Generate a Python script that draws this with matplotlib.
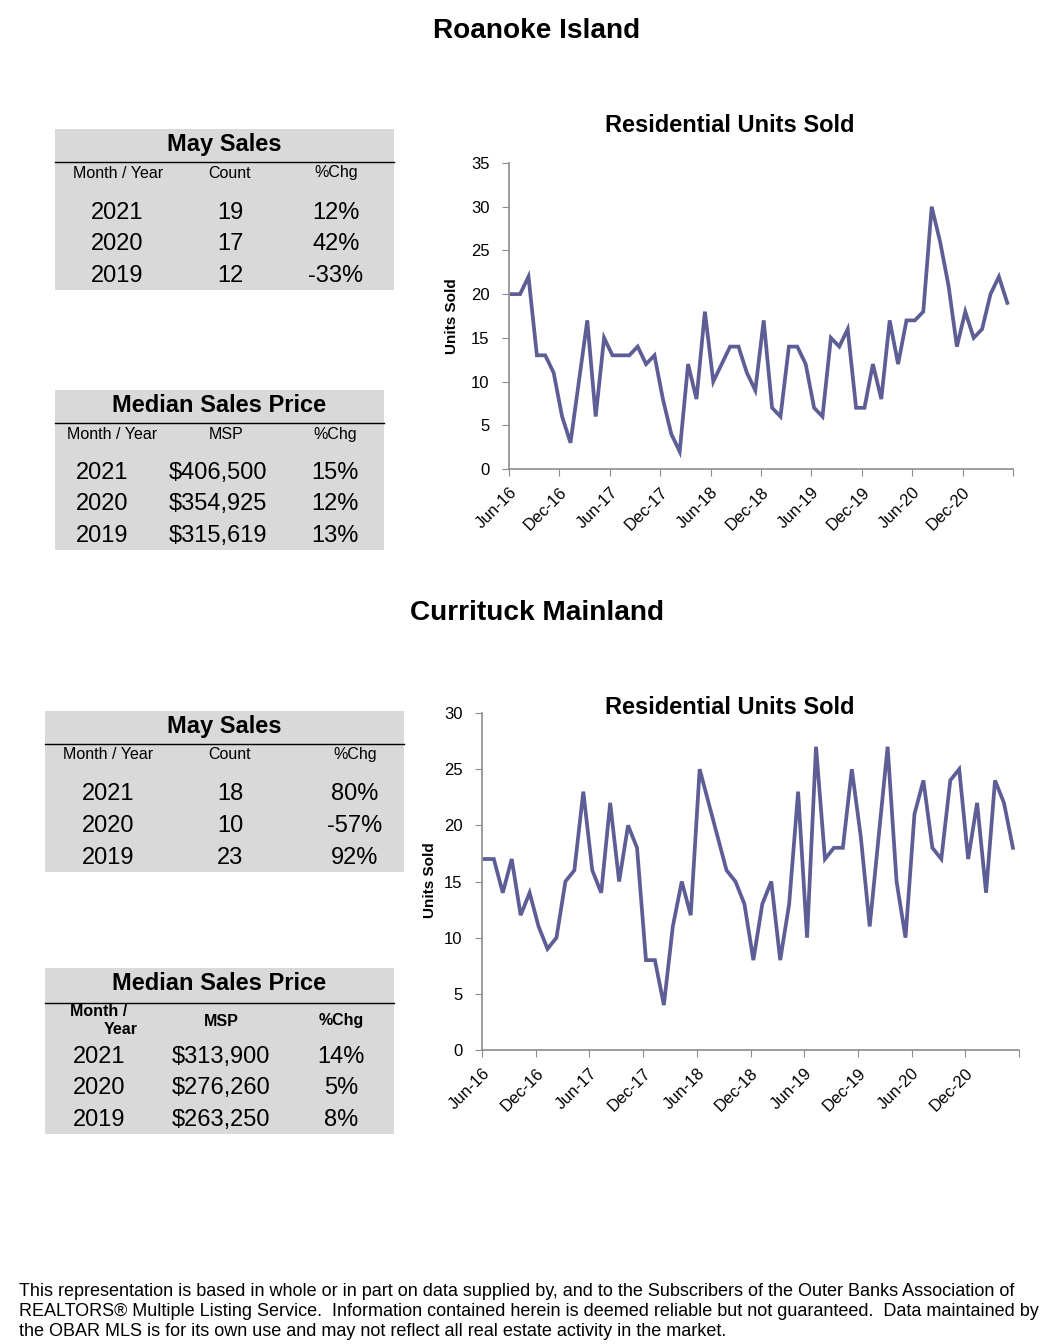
import matplotlib
matplotlib.use("Agg")
import matplotlib.pyplot as plt
from matplotlib.patches import Rectangle
from matplotlib.lines import Line2D

plt.rcParams['font.family'] = ['Liberation Sans', 'DejaVu Sans']

W, H = 1060, 1344

# ---------------- data ----------------
month_ticks = ["Jun-16", "Dec-16", "Jun-17", "Dec-17", "Jun-18",
               "Dec-18", "Jun-19", "Dec-19", "Jun-20", "Dec-20"]

roanoke_units = [20, 20, 22, 13, 13, 11, 6, 3, 10, 17,
                 6, 15, 13, 13, 13, 14, 12, 13, 8, 4,
                 2, 12, 8, 18, 10, 12, 14, 14, 11, 9,
                 17, 7, 6, 14, 14, 12, 7, 6, 15, 14,
                 16, 7, 7, 12, 8, 17, 12, 17, 17, 18,
                 30, 26, 21, 14, 18, 15, 16, 20, 22, 19]

currituck_units = [17, 17, 14, 17, 12, 14, 11, 9, 10, 15,
                   16, 23, 16, 14, 22, 15, 20, 18, 8, 8,
                   4, 11, 15, 12, 25, 22, 19, 16, 15, 13,
                   8, 13, 15, 8, 13, 23, 10, 27, 17, 18,
                   18, 25, 19, 11, 19, 27, 15, 10, 21, 24,
                   18, 17, 24, 25, 17, 22, 14, 24, 22, 18]

sales_years = ["2021", "2020", "2019"]
roanoke_count = ["19", "17", "12"]
roanoke_count_chg = ["12%", "42%", "-33%"]
roanoke_msp = ["$406,500", "$354,925", "$315,619"]
roanoke_msp_chg = ["15%", "12%", "13%"]

currituck_count = ["18", "10", "23"]
currituck_count_chg = ["80%", "-57%", "92%"]
currituck_msp = ["$313,900", "$276,260", "$263,250"]
currituck_msp_chg = ["14%", "5%", "8%"]

footer_lines = [
    "This representation is based in whole or in part on data supplied by, and to the Subscribers of the Outer Banks Association of",
    "REALTORS\u00ae Multiple Listing Service.  Information contained herein is deemed reliable but not guaranteed.  Data maintained by",
    "the OBAR MLS is for its own use and may not reflect all real estate activity in the market.",
]

LINE = "#5e5e96"
AXC = "#8c8c8c"
GRAY = "#d9d9d9"

fig = plt.figure(figsize=(W / 100, H / 100), dpi=100)


def fx(x):
    return x / W


def fy(y):
    return 1 - y / H


def txt(x, y, s, size, weight="normal", ha="center", va="center", **kw):
    fig.text(fx(x), fy(y), s, fontsize=size, fontweight=weight, ha=ha, va=va, **kw)


def line_chart(rect_px, values, ymax, ylab_xy, title_xy):
    x0, y0, x1, y1 = rect_px  # left, top, right, bottom in px
    ax = fig.add_axes([fx(x0), fy(y1), (x1 - x0) / W, (y1 - y0) / H])
    xs = list(range(len(values)))
    ax.plot(xs, values, color=LINE, lw=2.7, solid_joinstyle="miter")
    off = -0.32
    ax.set_xlim(off, len(values) + off)
    ax.set_ylim(0, ymax)
    ax.set_yticks(range(0, ymax + 1, 5))
    tpos = [6 * k + off for k in range(11)]
    ax.set_xticks(tpos)
    ax.set_xticklabels(month_ticks + [""], rotation=45, ha="right",
                       rotation_mode="anchor", fontsize=12)
    ax.tick_params(axis="y", labelsize=12, color=AXC, length=5, pad=9)
    ax.tick_params(axis="x", color=AXC, length=5, pad=6)
    for s in ["top", "right"]:
        ax.spines[s].set_visible(False)
    for s in ["left", "bottom"]:
        ax.spines[s].set_color(AXC)
        ax.spines[s].set_linewidth(1.2)
    txt(ylab_xy[0], ylab_xy[1], "Units Sold", 11, "bold", rotation=90)
    txt(title_xy[0], title_xy[1], "Residential Units Sold", 17, "bold")
    return ax


def table(box, title, title_y, line_y, headers, header_xs, header_y,
          col_xs, rows_y, cols, header_bold=False, extra=None):
    x0, y0, x1, y1 = box
    fig.patches.append(Rectangle((fx(x0), fy(y1)), (x1 - x0) / W, (y1 - y0) / H,
                                 transform=fig.transFigure, facecolor=GRAY,
                                 edgecolor="none", zorder=0))
    fig.lines.append(Line2D([fx(x0), fx(x1)], [fy(line_y), fy(line_y)],
                            transform=fig.transFigure, color="black", lw=1.0))
    txt((x0 + x1) / 2, title_y, title, 17, "bold")
    for h, hx in zip(headers, header_xs):
        if h:
            txt(hx, header_y, h, 11.5, "bold" if header_bold else "normal")
    if extra:
        for (ex, ey, es) in extra:
            txt(ex, ey, es, 11.5, "bold")
    for c, cx in zip(cols, col_xs):
        for v, ry in zip(c, rows_y):
            txt(cx, ry, v, 17)


# ---------------- Roanoke Island ----------------
txt(537, 31, "Roanoke Island", 20.2, "bold")
table((55, 129, 394, 290), "May Sales", 145, 162,
      ["Month / Year", "Count", "%Chg"], [118, 230, 336], 173,
      [117, 230, 336], [213, 244, 276],
      [sales_years, roanoke_count, roanoke_count_chg])
table((55, 390, 384, 550), "Median Sales Price", 405, 423,
      ["Month / Year", "MSP", "%Chg"], [112, 226, 335], 434,
      [102, 218, 335], [473, 504, 536],
      [sales_years, roanoke_msp, roanoke_msp_chg])
line_chart((509, 163, 1013, 469), roanoke_units, 35, (452, 316), (730, 125))

# ---------------- Currituck Mainland ----------------
txt(537, 613, "Currituck Mainland", 20.2, "bold")
table((45, 711, 404, 872), "May Sales", 727, 744,
      ["Month / Year", "Count", "%Chg"], [108, 230, 355], 755,
      [108, 230, 355], [794, 826, 858],
      [sales_years, currituck_count, currituck_count_chg])
table((45, 968, 394, 1134), "Median Sales Price", 983, 1003,
      ["", "MSP", "%Chg"], [99, 221, 341], 1021,
      [99, 221, 341], [1057, 1088, 1120],
      [sales_years, currituck_msp, currituck_msp_chg], header_bold=True,
      extra=[(99, 1012, "Month /"), (121, 1030, "Year")])
line_chart((482, 713, 1019, 1050), currituck_units, 30, (430, 880), (730, 707))

# ---------------- footer ----------------
for line, ly in zip(footer_lines, [1291, 1311.5, 1332]):
    fig.text(fx(19), fy(ly), line, fontsize=13.0, ha="left", va="center")

fig.savefig("out.png", dpi=100, facecolor="white")
